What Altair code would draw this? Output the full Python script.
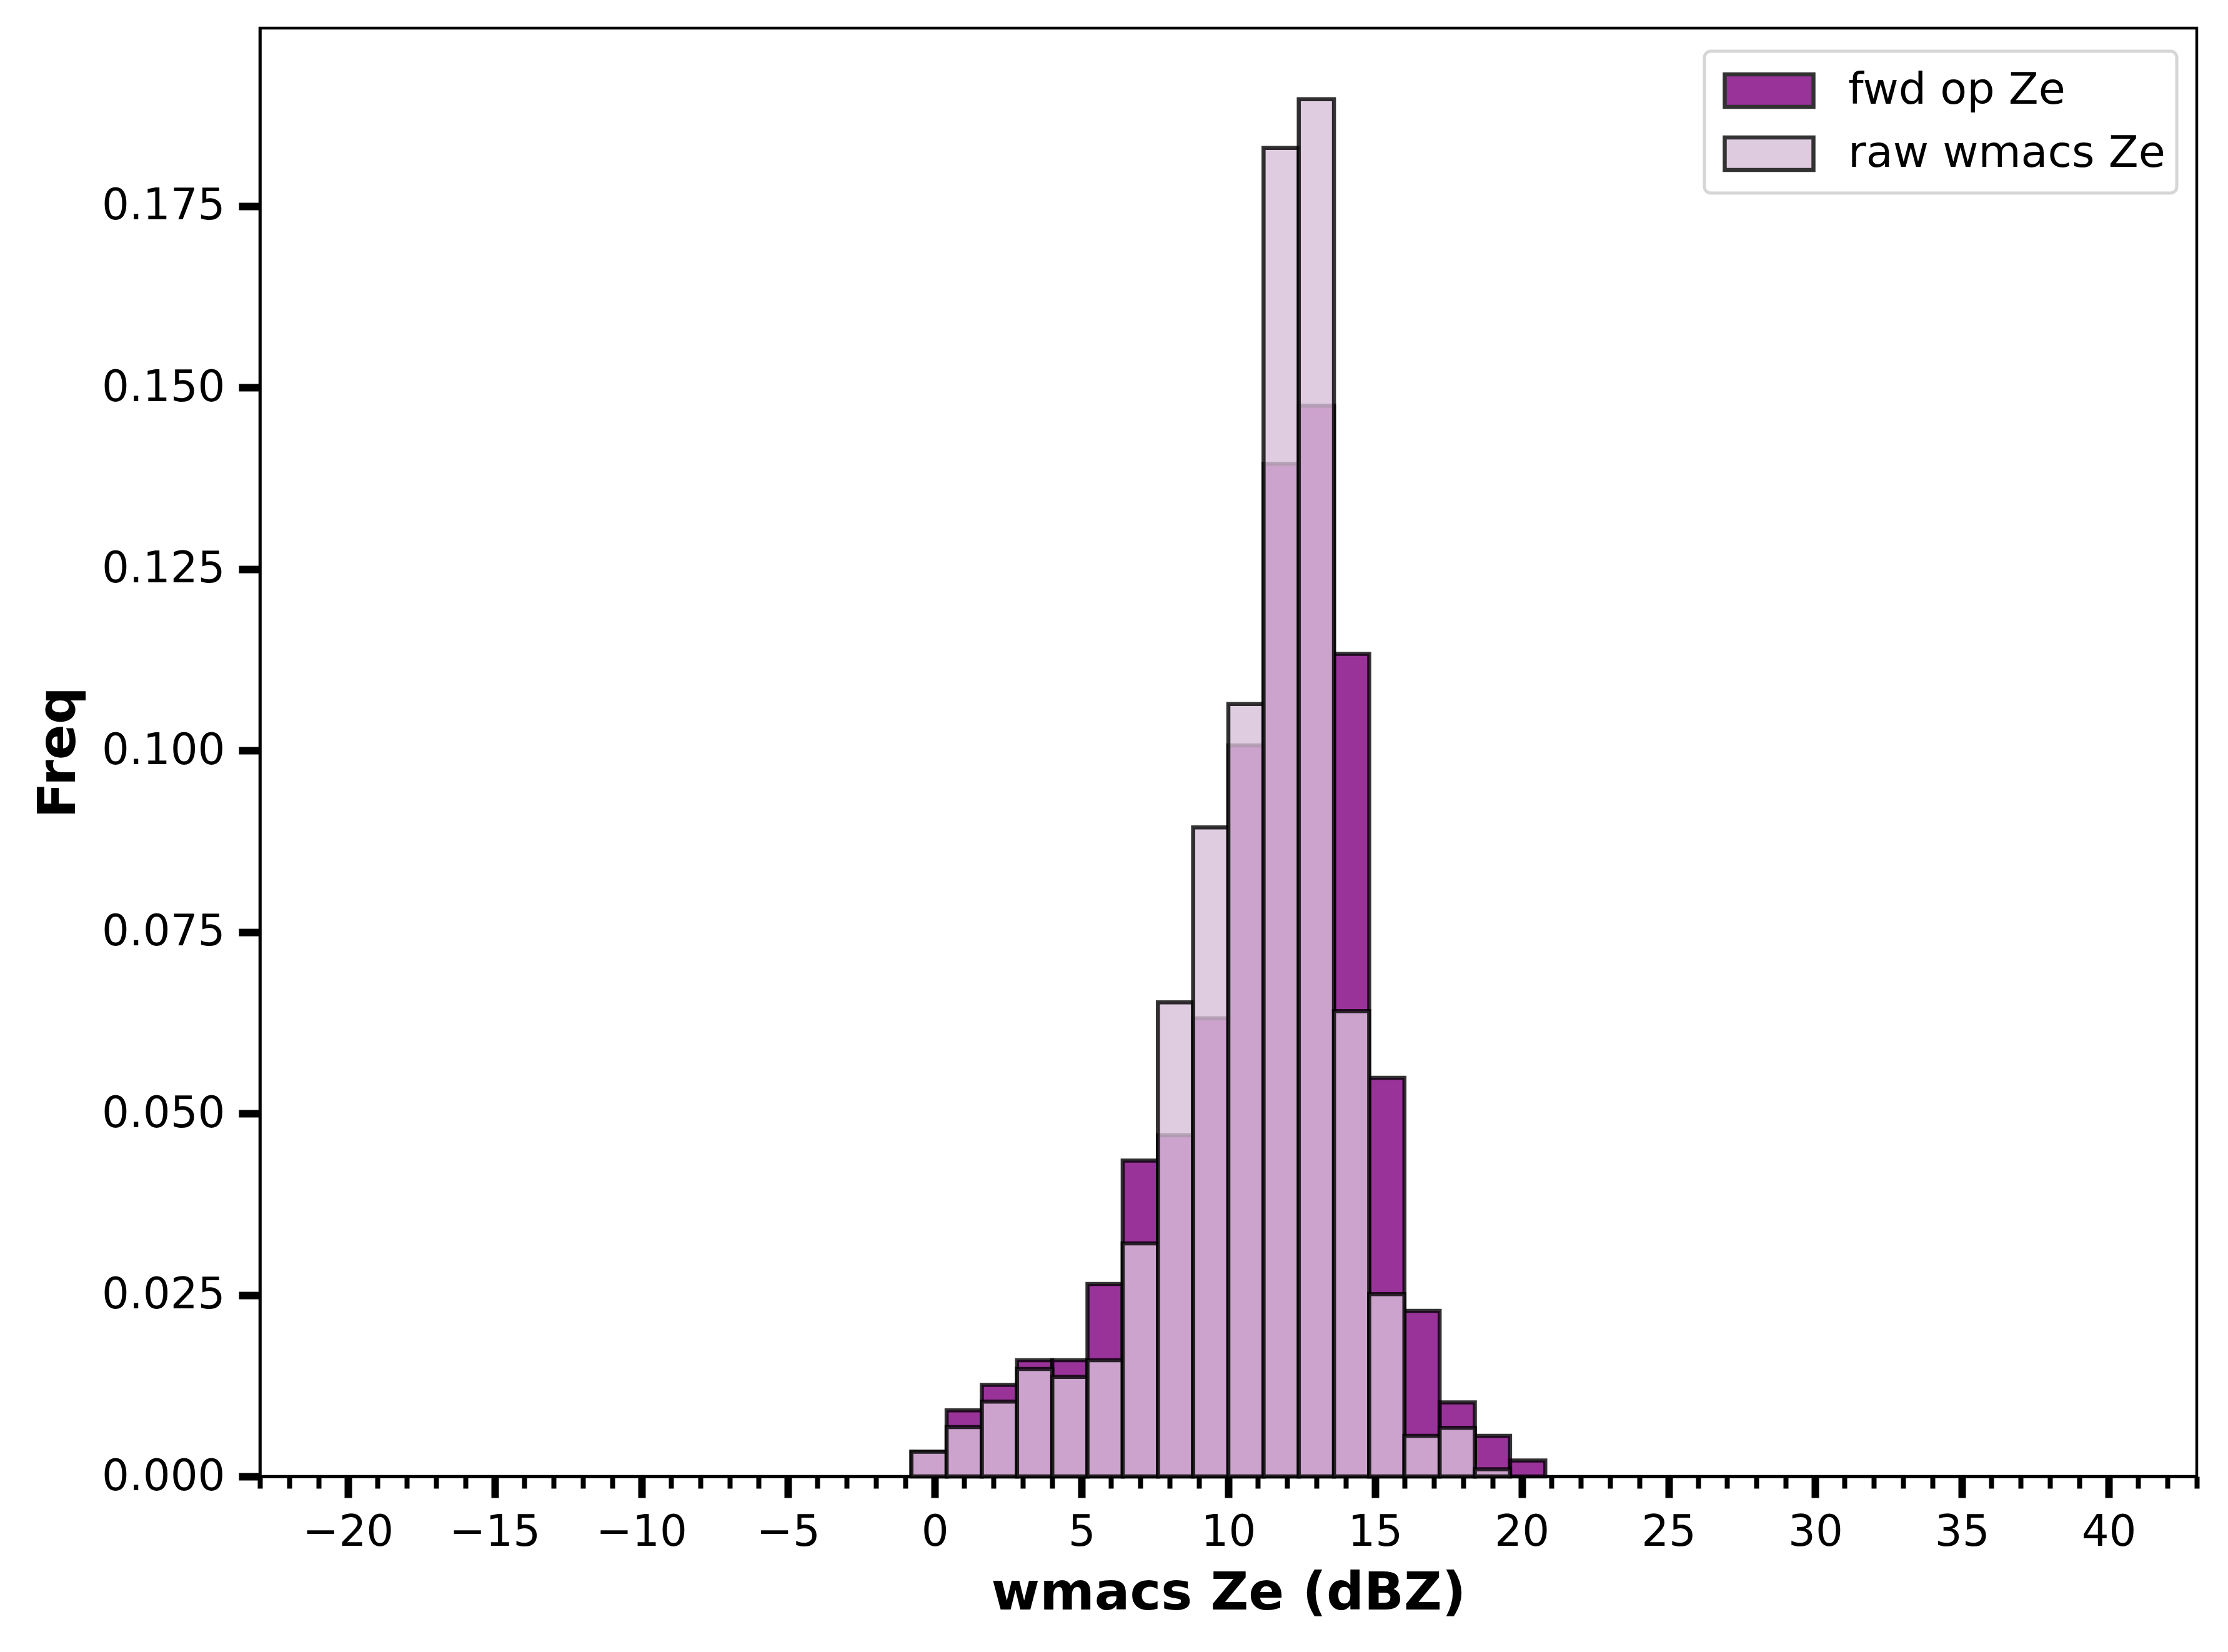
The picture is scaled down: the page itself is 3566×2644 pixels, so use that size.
import altair as alt
import pandas as pd

# Histogram bins (width 1.2 dBZ, edges on a -20..40 grid)
bin_starts = [-0.8, 0.4, 1.6, 2.8, 4.0, 5.2, 6.4, 7.6, 8.8, 10.0,
              11.2, 12.4, 13.6, 14.8, 16.0, 17.2, 18.4, 19.6]
bin_width = 1.2

fwd_freq = [0.0034, 0.0091, 0.0126, 0.0160, 0.0160, 0.0265, 0.0435, 0.0470, 0.0631,
            0.1007, 0.1395, 0.1475, 0.1133, 0.0549, 0.0228, 0.0102, 0.0056, 0.0022]
raw_freq = [0.0034, 0.0068, 0.0103, 0.0148, 0.0137, 0.0160, 0.0321, 0.0653, 0.0894,
            0.1064, 0.1830, 0.1897, 0.0641, 0.0251, 0.0056, 0.0067, 0.0010, 0.0]

series_names = ["fwd op Ze", "raw wmacs Ze"]
series_colors = ["purple", "thistle"]

x_ticks = list(range(-23, 44))
y_ticks = [0.0, 0.025, 0.05, 0.075, 0.1, 0.125, 0.15, 0.175]

rows = []
for k, (name, vals) in enumerate(zip(series_names, [fwd_freq, raw_freq])):
    for s, v in zip(bin_starts, vals):
        if v > 0:
            rows.append({"series": name, "k": k, "x0": s, "x1": round(s + bin_width, 2), "freq": v})
df = pd.DataFrame(rows)

FONT = "DejaVu Sans"

chart = alt.Chart(df).mark_bar(
    fillOpacity=0.8, strokeOpacity=0.8, stroke="black", strokeWidth=6.5
).encode(
    x=alt.X("x0:Q",
            scale=alt.Scale(domain=[-23, 43], nice=False, zero=False),
            axis=alt.Axis(
                values=x_ticks,
                format="d",
                labelExpr="datum.value % 5 === 0 ? datum.label : ''",
                tickSize={"condition": {"test": "datum.value % 5 === 0", "value": 34}, "value": 19},
                tickWidth={"condition": {"test": "datum.value % 5 === 0", "value": 12}, "value": 8},
                labelOverlap=False,
                labelFlush=False,
                labelPadding=21,
                title="wmacs Ze (dBZ)",
                titlePadding=22,
            )),
    x2="x1:Q",
    y=alt.Y("freq:Q", stack=None,
            scale=alt.Scale(domain=[0, 0.1995], nice=False),
            axis=alt.Axis(values=y_ticks, format=".3f", tickSize=34, tickWidth=12,
                          labelPadding=22, title="Freq", titlePadding=79)),
    y2=alt.datum(0),
    color=alt.Color("series:N",
                    scale=alt.Scale(domain=series_names, range=series_colors),
                    legend=alt.Legend(title=None, orient="none", legendX=2312, legendY=37)),
    order=alt.Order("k:Q"),
).properties(
    width=3100,
    height=2318,
    autosize=alt.AutoSizeParams(type="none"),
    padding={"left": 408, "top": 37, "right": 30, "bottom": 270},
    background="white",
).configure_view(
    stroke="black", strokeWidth=4.5
).configure_axis(
    grid=False,
    domainColor="black", domainWidth=4.5,
    tickColor="black",
    labelFont=FONT, labelFontSize=69, labelColor="black", labelLimit=1000,
    titleFont=FONT, titleFontSize=84, titleFontWeight="bold", titleColor="black",
).configure_legend(
    symbolType="M-1,-0.366H1V0.366H-1Z",
    symbolSize=20164,
    symbolStrokeColor="black",
    symbolStrokeWidth=6.5,
    symbolOpacity=0.8,
    symbolOffset=11,
    labelFont=FONT, labelFontSize=70, labelColor="black",
    labelOffset=52, labelLimit=2000,
    clipHeight=90, rowPadding=11,
    padding=18, cornerRadius=10,
    fillColor="white", strokeColor="#d6d6d6", strokeWidth=5,
)

chart.save("out.html", embed_options={"renderer": "svg", "actions": False})
